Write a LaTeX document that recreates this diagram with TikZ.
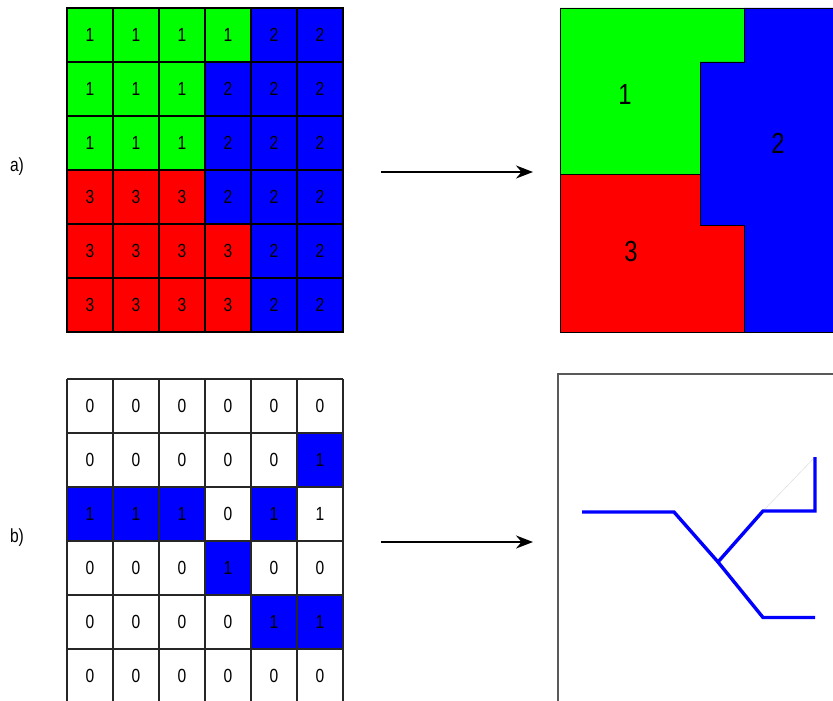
\documentclass[tikz,border=0pt]{standalone}
\usepackage{fontspec}
\setmainfont{Liberation Sans}
\newfontfamily\narrowfont[FakeStretch=0.82]{Liberation Sans}
\usetikzlibrary{arrows.meta}
\definecolor{cgreen}{RGB}{0,255,0}
\definecolor{cblue}{RGB}{0,0,255}
\definecolor{cred}{RGB}{255,0,0}
\begin{document}
\begin{tikzpicture}[x=1pt,y=-1pt,
  cell/.style={draw=black, line width=1.1pt, minimum width=46pt, minimum height=54pt, inner sep=0pt, font=\narrowfont\fontsize{19}{19}\selectfont},
  bcell/.style={minimum width=46pt, minimum height=54pt, inner sep=0pt},
  digit/.style={font=\narrowfont\fontsize{19}{19}\selectfont, inner sep=0pt},
  gridline/.style={draw=black!85, line width=1.1pt},
  region/.style={draw=black, line width=0.9pt},
  biglabel/.style={font=\narrowfont\fontsize{29}{29}\selectfont, inner sep=0pt},
  partlabel/.style={font=\narrowfont\fontsize{19}{19}\selectfont, inner sep=0pt},
  flow/.style={line width=2pt, -{Stealth[length=17pt,width=13pt]}},
  skel/.style={cblue, line width=3.4pt, line join=miter},
]
\useasboundingbox (0,0) rectangle (833,701);
\clip (0,0) rectangle (833,701);
% ---------- a) grid ----------
\foreach \row/\vals in {1/{1,1,1,1,2,2},2/{1,1,1,2,2,2},3/{1,1,1,2,2,2},4/{3,3,3,2,2,2},5/{3,3,3,3,2,2},6/{3,3,3,3,2,2}}{
  \foreach \v [count=\col] in \vals {
    \ifcase\v\or\def\cc{cgreen}\or\def\cc{cblue}\or\def\cc{cred}\fi
    \node[cell, fill=\cc] (ta-\row-\col) at ({67+46*(\col-0.5)},{8+54*(\row-0.5)}) {\v};
  }
}
% ---------- a) result ----------
\filldraw[region, fill=cgreen] (560,8) -- (744,8) -- (744,62) -- (700,62) -- (700,174) -- (560,174) -- cycle;
\filldraw[region, fill=cblue] (744,8) -- (840,8) -- (840,332) -- (744,332) -- (744,225) -- (700,225) -- (700,62) -- (744,62) -- cycle;
\filldraw[region, fill=cred] (560,174) -- (700,174) -- (700,225) -- (744,225) -- (744,332) -- (560,332) -- cycle;
\node[biglabel] (r1) at (625,95) {1};
\node[biglabel] (r2) at (778,143) {2};
\node[biglabel] (r3) at (631,252) {3};
% ---------- b) grid ----------
\foreach \row/\vals in {1/{0,0,0,0,0,0},2/{0,0,0,0,0,1},3/{1,1,1,0,1,1},4/{0,0,0,1,0,0},5/{0,0,0,0,1,1},6/{0,0,0,0,0,0}}{
  \foreach \v [count=\col] in \vals {
    \node[bcell] (tb-\row-\col) at ({67+46*(\col-0.5)},{379+54*(\row-0.5)}) {};
  }
}
\foreach \r/\c in {2/6,3/1,3/2,3/3,3/5,4/4,5/5,5/6}{
  \fill[cblue] (tb-\r-\c.south west) rectangle (tb-\r-\c.north east);
}
\foreach \i in {0,...,6}{
  \draw[gridline] ({67+46*\i},379) -- ({67+46*\i},710);
  \draw[gridline] (67,{379+54*\i}) -- (343,{379+54*\i});
}
\foreach \row/\vals in {1/{0,0,0,0,0,0},2/{0,0,0,0,0,1},3/{1,1,1,0,1,1},4/{0,0,0,1,0,0},5/{0,0,0,0,1,1},6/{0,0,0,0,0,0}}{
  \foreach \v [count=\col] in \vals {
    \node[digit] (vb-\row-\col) at (tb-\row-\col) {\v};
  }
}
% ---------- b) result ----------
\draw[black!65, line width=2pt] (840,374) -- (558,374) -- (558,710);
\coordinate (s1) at (582,512);
\coordinate (s2) at (674,512);
\coordinate (s3) at (718,562);
\coordinate (s4) at (763,617.5);
\coordinate (s5) at (815,617.5);
\coordinate (s6) at (763,511);
\coordinate (s7) at (815,511);
\coordinate (s8) at (815,457);
\draw[black!12, line width=0.6pt] (s6) -- (s8);
\draw[skel] (s1) -- (s2) -- (s3) -- (s4) -- (s5);
\draw[skel] (s3) -- (s6) -- (s7) -- (s8);
% ---------- labels and arrows ----------
\node[partlabel] (la) at (17,167) {a)};
\node[partlabel] (lb) at (17,538) {b)};
\coordinate (aa1) at (381,172);
\coordinate (aa2) at (533,172);
\coordinate (ab1) at (381,542);
\coordinate (ab2) at (533,542);
\draw[flow] (aa1) -- (aa2);
\draw[flow] (ab1) -- (ab2);
\end{tikzpicture}
\end{document}
